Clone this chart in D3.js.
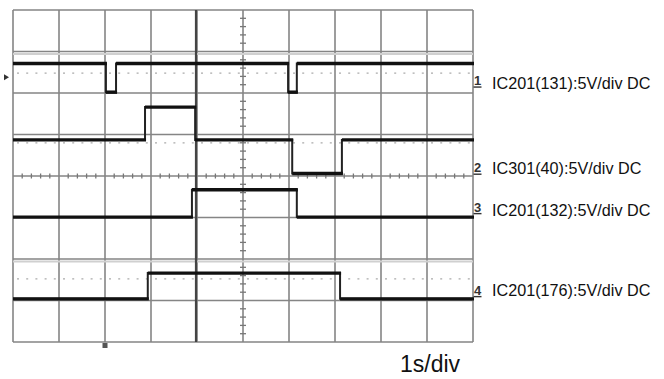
<!DOCTYPE html>
<html><head><meta charset="utf-8">
<script src="https://cdn.jsdelivr.net/npm/d3@7"></script>
<style>body{margin:0;background:#fff}svg{display:block}</style>
</head><body><svg id="c" width="664" height="379"></svg>
<script>
// time in seconds (1 s/div, 10 div), level in screen divisions (0 = centre)
const ch1T = [0, 2.02, 2.24, 5.98, 6.17, 10];
const ch1V = [2.71, 2.02, 2.71, 2.02, 2.71, 2.71];
const ch2T = [0, 2.87, 3.96, 6.07, 7.15, 10];
const ch2V = [0.87, 1.66, 0.87, 0.06, 0.87, 0.87];
const ch3T = [0, 3.89, 6.17, 10];
const ch3V = [-0.99, -0.33, -0.99, -0.99];
const ch4T = [0, 2.93, 7.11, 10];
const ch4V = [-2.96, -2.34, -2.96, -2.96];
const labels = ["IC201(131):5V/div DC", "IC301(40):5V/div DC", "IC201(132):5V/div DC", "IC201(176):5V/div DC"];
const markerNames = ["1", "2", "3", "4"];
const markerLevels = [2.3, 0.2, -0.75, -2.75];
const labelLevels = [2.23, 0.19, -0.84, -2.77];
const refLevels = [2.48, 0.80, -2.48];
const timebase = "1s/div";

const svg = d3.select("#c");
const x = d3.scaleLinear().domain([0, 10]).range([13, 473]);
const y = d3.scaleLinear().domain([-4, 4]).range([342, 10]);

// grid
const g = svg.append("g");
d3.range(0, 11).forEach(i => {
  g.append("line").attr("x1", x(i)).attr("x2", x(i)).attr("y1", y(-4)).attr("y2", y(4))
    .attr("stroke", "#858585").attr("stroke-width", 1.6);
});
d3.range(-4, 5).forEach(j => {
  g.append("line").attr("x1", x(0)).attr("x2", x(10)).attr("y1", y(j)).attr("y2", y(j))
    .attr("stroke", "#858585").attr("stroke-width", 1.6);
});
// faint doubled lines
[3, -2].forEach(j => {
  g.append("line").attr("x1", x(0)).attr("x2", x(10)).attr("y1", y(j) + 2.5).attr("y2", y(j) + 2.5)
    .attr("stroke", "#d0d0d0").attr("stroke-width", 2);
});
// darker cursor line at 4th division
g.append("line").attr("x1", x(4) - 1).attr("x2", x(4) - 1).attr("y1", y(-4)).attr("y2", y(4))
  .attr("stroke", "#444").attr("stroke-width", 2.2);

// centre axis minor ticks
d3.range(0, 50.001, 1).forEach(k => {
  const t = k / 5;
  if (k % 5 === 0) return;
  g.append("line").attr("x1", x(t)).attr("x2", x(t)).attr("y1", y(0) - 2.5).attr("y2", y(0) + 2.5)
    .attr("stroke", "#777").attr("stroke-width", 1.3);
});
d3.range(-20, 20.001, 1).forEach(k => {
  if (k % 5 === 0) return;
  const v = k / 5;
  g.append("line").attr("x1", x(5) - 3).attr("x2", x(5) + 3).attr("y1", y(v)).attr("y2", y(v))
    .attr("stroke", "#777").attr("stroke-width", 1.3);
});
// dotted reference lines
refLevels.forEach(v => {
  g.append("line").attr("x1", x(0) + 4).attr("x2", x(10)).attr("y1", y(v)).attr("y2", y(v))
    .attr("stroke", "#aaa").attr("stroke-width", 1.2).attr("stroke-dasharray", "2,7.2");
});

// traces: thin edges, thick levels
const line = d3.line().x(d => x(d[0])).y(d => y(d[1])).curve(d3.curveStepAfter);
[[ch1T, ch1V], [ch2T, ch2V], [ch3T, ch3V], [ch4T, ch4V]].forEach(([T, V]) => {
  const pts = T.map((t, i) => [t, V[i]]);
  svg.append("path").attr("d", line(pts)).attr("fill", "none")
    .attr("stroke", "#222").attr("stroke-width", 2);
  for (let i = 0; i < T.length - 1; i++) {
    svg.append("line").attr("x1", x(T[i])).attr("x2", x(T[i + 1]) + 1)
      .attr("y1", y(V[i])).attr("y2", y(V[i]))
      .attr("stroke", "#111").attr("stroke-width", 3.4);
  }
});

// right-side channel markers
markerNames.forEach((m, i) => {
  svg.append("text").attr("x", x(10) + 4.5).attr("y", y(markerLevels[i]) + 4.5)
    .attr("text-anchor", "middle").attr("font-family", "Liberation Sans, Arial, sans-serif")
    .attr("font-size", 13).attr("font-weight", "bold").attr("fill", "#333").text(m);
  svg.append("line").attr("x1", x(10) + 0.5).attr("x2", x(10) + 8.5).attr("y1", y(markerLevels[i]) + 6.5)
    .attr("y2", y(markerLevels[i]) + 6.5).attr("stroke", "#333").attr("stroke-width", 1.4);
});
// left marker
svg.append("path").attr("d", `M4,${y(2.38) - 3}L9,${y(2.38)}L4,${y(2.38) + 3}Z`).attr("fill", "#333");
// trigger marker below grid
svg.append("rect").attr("x", x(2) - 2.5).attr("y", y(-4) + 1).attr("width", 5).attr("height", 5).attr("fill", "#555");

// labels
labels.forEach((t, i) => {
  svg.append("text").attr("x", 492).attr("y", y(labelLevels[i]) + 5.5)
    .attr("font-family", "Liberation Sans, Arial, sans-serif").attr("font-size", 16.2)
    .attr("fill", "#111").text(t);
});
svg.append("text").attr("x", 400).attr("y", 372)
  .attr("font-family", "Liberation Sans, Arial, sans-serif").attr("font-size", 23)
  .attr("fill", "#111").text(timebase);
</script></body></html>
